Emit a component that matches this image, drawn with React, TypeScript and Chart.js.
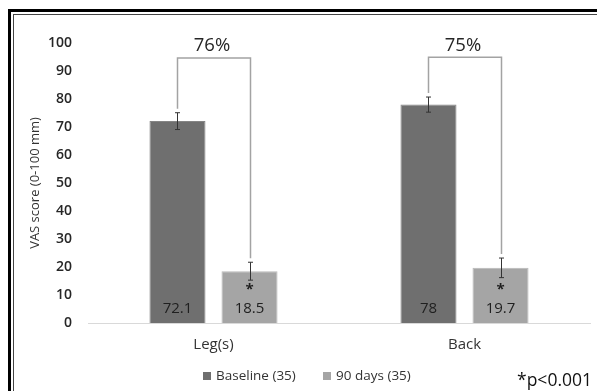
import React, { useEffect, useRef } from "react";
import { Chart, registerables } from "chart.js";

Chart.register(...registerables);

// Mean VAS scores per region and visit
const categories = ["Leg(s)", "Back"];
const seriesLabels = ["Baseline (35)", "90 days (35)"];
const baselineValues = [72.1, 78];
const day90Values = [18.5, 19.7];
// Error bar half-widths
const baselineErrors = [3.0, 2.7];
const day90Errors = [3.2, 3.5];
// Reduction brackets
const reductionLabels = ["76%", "75%"];
const bracketLevels = [94.6, 94.9];
const significanceMarks = ["*", "*"];
const yTicks = [0, 10, 20, 30, 40, 50, 60, 70, 80, 90, 100];

const FONT = "'Open Sans', 'DejaVu Sans', sans-serif";
const barColors = ["#6f6f6f", "#a5a5a5"];
const barBorders = ["#858585", "#b8b8b8"];

const annotations = {
  id: "vasAnnotations",
  afterDatasetsDraw(chart: any) {
    const ctx = chart.ctx as CanvasRenderingContext2D;
    const y = chart.scales.y;
    const errs = [baselineErrors, day90Errors];
    const metas = [chart.getDatasetMeta(0), chart.getDatasetMeta(1)];
    const vals = [baselineValues, day90Values];

    ctx.save();
    // error bars
    ctx.strokeStyle = "#333333";
    ctx.lineWidth = 1;
    metas.forEach((meta: any, d: number) => {
      meta.data.forEach((bar: any, i: number) => {
        const x = Math.round(bar.x) + 0.5;
        const hi = y.getPixelForValue(vals[d][i] + errs[d][i]);
        const lo = y.getPixelForValue(vals[d][i] - errs[d][i]);
        ctx.beginPath();
        ctx.moveTo(x, hi);
        ctx.lineTo(x, lo);
        ctx.moveTo(x - 2.5, hi);
        ctx.lineTo(x + 2.5, hi);
        ctx.moveTo(x - 2.5, lo);
        ctx.lineTo(x + 2.5, lo);
        ctx.stroke();
      });
    });

    // value labels and significance marks inside bars
    ctx.fillStyle = "#1f1f1f";
    ctx.textAlign = "center";
    ctx.textBaseline = "middle";
    const base = y.getPixelForValue(0);
    metas.forEach((meta: any, d: number) => {
      meta.data.forEach((bar: any, i: number) => {
        ctx.font = `15px ${FONT}`;
        ctx.fillText(String(vals[d][i]), bar.x, base - 14);
        if (d === 1) {
          ctx.font = `bold 15px ${FONT}`;
          ctx.fillText(significanceMarks[i], bar.x, base - 33);
        }
      });
    });

    // reduction brackets
    ctx.strokeStyle = "#a3a3a3";
    ctx.lineWidth = 1.5;
    categories.forEach((_c, i) => {
      const b0 = metas[0].data[i];
      const b1 = metas[1].data[i];
      const x0 = Math.round(b0.x) + 0.5;
      const x1 = Math.round(b1.x) + 0.5;
      const top = y.getPixelForValue(bracketLevels[i]);
      const end0 = y.getPixelForValue(baselineValues[i] + baselineErrors[i]) - 4;
      const end1 = y.getPixelForValue(day90Values[i] + day90Errors[i]) - 4;
      ctx.beginPath();
      ctx.moveTo(x0, end0);
      ctx.lineTo(x0, top);
      ctx.lineTo(x1, top);
      ctx.lineTo(x1, end1);
      ctx.stroke();
      ctx.fillStyle = "#262626";
      ctx.font = `18.5px ${FONT}`;
      ctx.fillText(reductionLabels[i], (x0 + x1) / 2 - 2, top - 12);
    });

    // legend
    ctx.font = `13.5px ${FONT}`;
    ctx.textAlign = "left";
    const legendY = 376;
    const legendX = [203, 323];
    seriesLabels.forEach((label, d) => {
      ctx.fillStyle = barColors[d];
      ctx.fillRect(legendX[d], legendY - 4, 8, 8);
      ctx.fillStyle = "#333333";
      ctx.fillText(label, legendX[d] + 13, legendY);
    });

    // significance note
    ctx.font = `17.5px ${FONT}`;
    ctx.fillStyle = "#111111";
    ctx.textAlign = "right";
    ctx.fillText("*p<0.001", 592, 381);

    // double frame
    ctx.strokeStyle = "#000000";
    ctx.lineWidth = 3;
    ctx.strokeRect(9.5, 10.5, 800, 600);
    ctx.strokeStyle = "#444444";
    ctx.lineWidth = 1;
    ctx.strokeRect(13.5, 14.5, 800, 600);
    ctx.restore();
  },
};

export default function App() {
  const ref = useRef<HTMLCanvasElement | null>(null);

  useEffect(() => {
    if (!ref.current) return;
    const chart = new Chart(ref.current, {
      type: "bar",
      data: {
        labels: categories,
        datasets: [
          {
            label: seriesLabels[0],
            data: baselineValues,
            backgroundColor: barColors[0],
            borderColor: barBorders[0],
            borderWidth: 1,
          },
          {
            label: seriesLabels[1],
            data: day90Values,
            backgroundColor: barColors[1],
            borderColor: barBorders[1],
            borderWidth: 1,
          },
        ],
      },
      options: {
        responsive: false,
        animation: false,
        events: [],
        layout: { padding: { left: 0, right: 7, top: 43, bottom: 38 } },
        datasets: {
          bar: { categoryPercentage: 0.574, barPercentage: 0.778 },
        },
        plugins: {
          legend: { display: false },
          tooltip: { enabled: false },
        },
        scales: {
          x: {
            grid: { display: false, drawTicks: false },
            border: { display: true, color: "#d9d9d9", width: 1 },
            ticks: { padding: 13, color: "#333333", font: { family: FONT, size: 15 } },
            afterFit(scale: any) {
              scale.height = 30;
            },
          },
          y: {
            min: 0,
            max: 100,
            afterBuildTicks(scale: any) {
              scale.ticks = yTicks.map((v) => ({ value: v }));
            },
            grid: { display: false, drawTicks: false },
            border: { display: false },
            ticks: {
              padding: 16,
              color: "#262626",
              font: { family: FONT, size: 14, weight: "600" },
            },
            title: {
              display: true,
              text: "VAS score (0-100 mm)",
              color: "#333333",
              font: { family: FONT, size: 13 },
              padding: { top: 27, bottom: 0 },
            },
            afterFit(scale: any) {
              scale.width = 88;
            },
          },
        },
      },
      plugins: [annotations],
    });
    return () => chart.destroy();
  }, []);

  return (
    <canvas
      ref={ref}
      width={597}
      height={391}
      style={{ position: "absolute", left: 0, top: 0, display: "block" }}
    />
  );
}
